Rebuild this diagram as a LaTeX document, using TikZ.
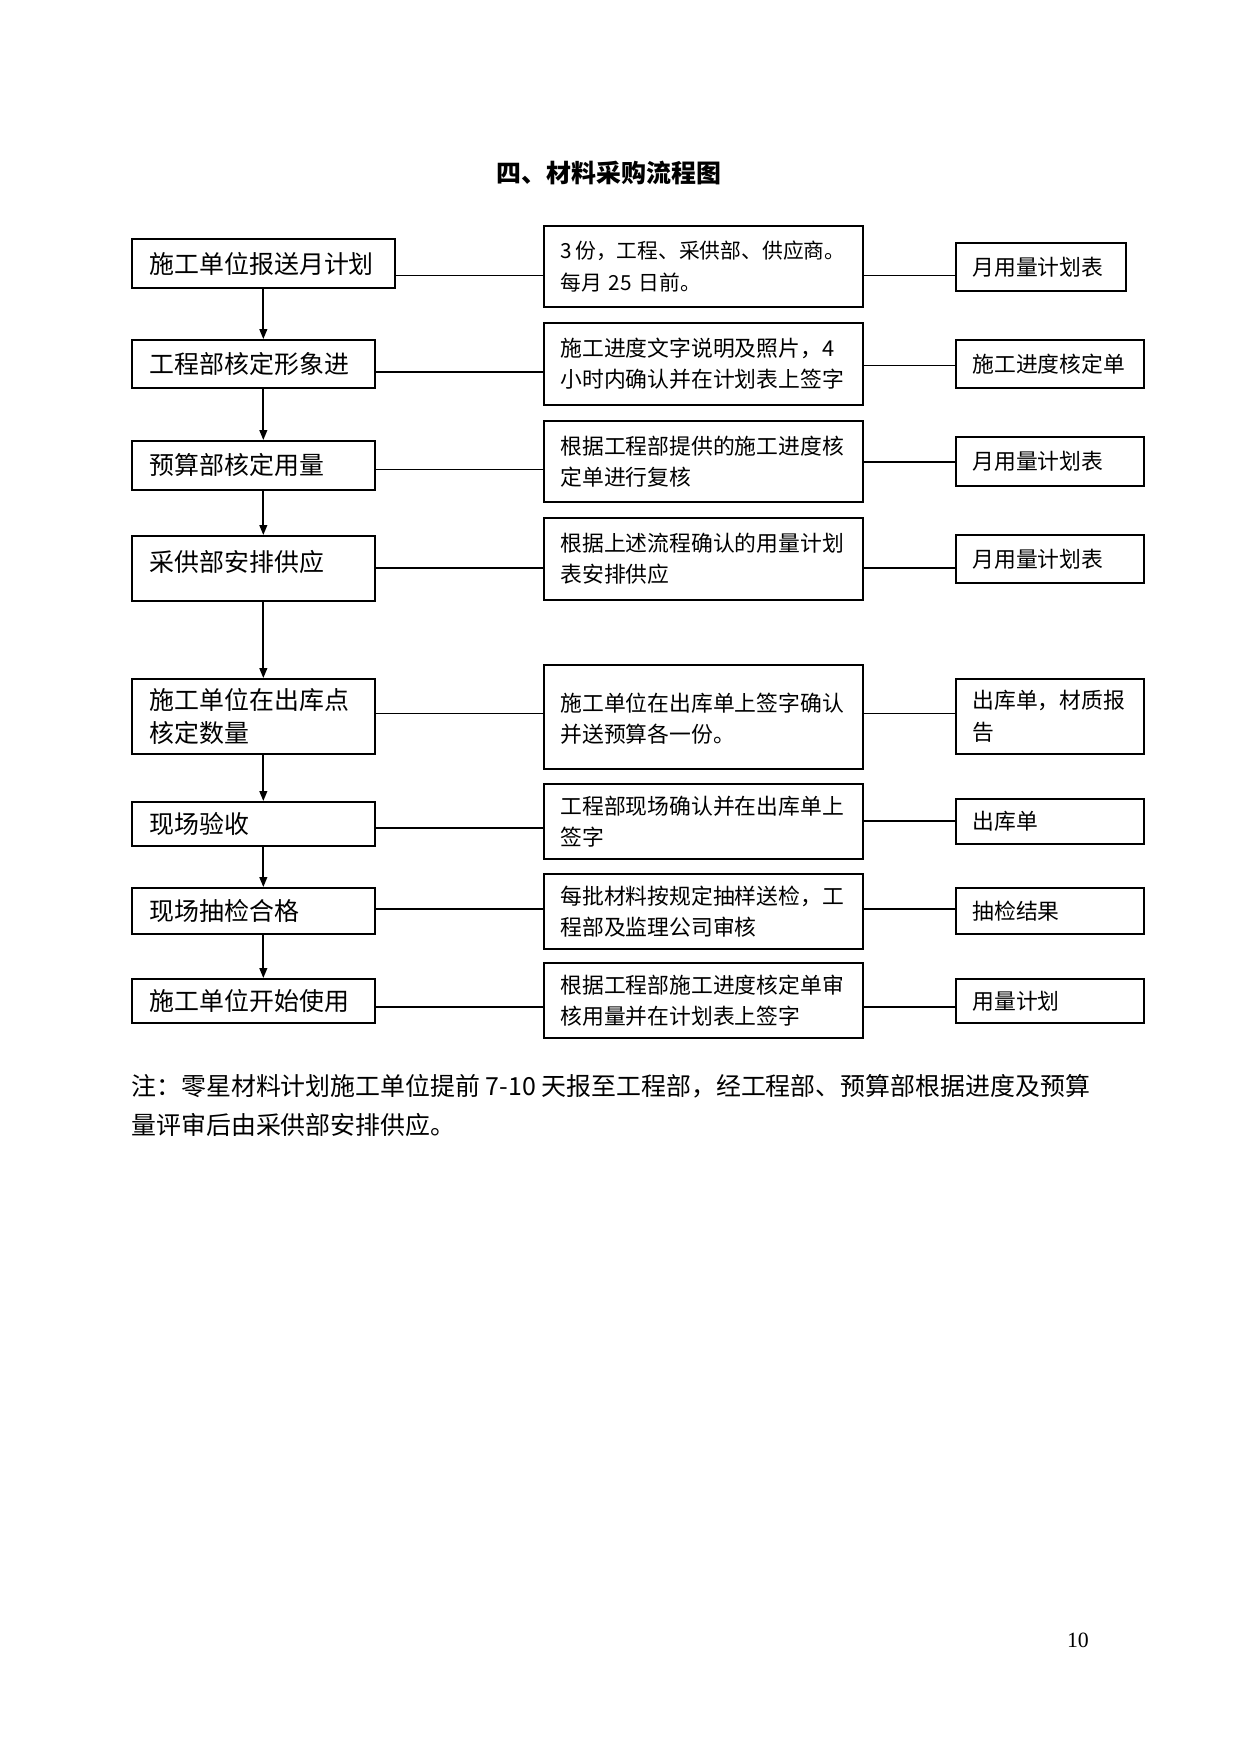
\documentclass[tikz,border=0pt]{standalone}
\usepackage{fontspec}
\setmainfont{Liberation Serif}
\newfontfamily\cjk{Noto Sans CJK SC}
\usetikzlibrary{arrows.meta}

\begin{document}
\begin{tikzpicture}[
  every node/.style={inner sep=0pt},
  box/.style={rectangle, draw=black, line width=0.8pt, inner ysep=2pt, align=left, anchor=west},
  lbox/.style={box, inner xsep=0.3cm,  text width=3.51cm,  minimum height=#1, font=\cjk\fontsize{12}{15.5}\selectfont},
  mbox/.style={box, inner xsep=0.28cm, text width=4.838cm, minimum height=#1, font=\cjk\fontsize{10.5}{15}\selectfont},
  rbox/.style={box, inner xsep=0.28cm, text width=2.621cm, minimum height=#1, font=\cjk\fontsize{10.5}{15.4}\selectfont},
  arr/.style  ={-{Triangle[length=4.8pt,width=3.6pt]}, line width=1pt},
  link/.style ={line width=0.5pt},
  linkb/.style={line width=1pt},
]

% ── Page (A4, white) ──
\path[fill=white, use as bounding box] (0,0) rectangle (21,-29.682);

% ── Column x-coordinates ──
\def\xLeft{2.217}
\def\xMid{9.189}
\def\xRight{16.161}

% ── Title ──
\node[font=\cjk\bfseries\fontsize{12}{14}\selectfont] (title) at (10.306,-2.928) {四、材料采购流程图};

% ── Left column: process steps ──
\node[lbox=0.829cm, text width=3.85cm]  (l1) at (\xLeft,-4.459)  {施工单位报送月计划};
\node[lbox=0.812cm]                     (l2) at (\xLeft,-6.160)  {工程部核定形象进};
\node[lbox=0.829cm]                     (l3) at (\xLeft,-7.877)  {预算部核定用量};
\node[lbox=1.10cm, text depth=0.25cm]   (l4) at (\xLeft,-9.620)  {采供部安排供应};
\node[lbox=1.269cm]                     (l5) at (\xLeft,-12.125) {施工单位在出库点\\核定数量};
\node[lbox=0.745cm]                     (l6) at (\xLeft,-13.944) {现场验收};
\node[lbox=0.778cm]                     (l7) at (\xLeft,-15.416) {现场抽检合格};
\node[lbox=0.745cm]                     (l8) at (\xLeft,-16.939) {施工单位开始使用};

% ── Middle column: requirements ──
\node[mbox=1.371cm, font=\cjk\fontsize{10}{15.6}\selectfont]
                                       (m1) at (\xMid,-4.510)  {3\,份，工程、采供部、供应商。\\每月 25 日前。};
\node[mbox=1.388cm]                    (m2) at (\xMid,-6.160)  {施工进度文字说明及照片，4\\小时内确认并在计划表上签字};
\node[mbox=1.371cm]                    (m3) at (\xMid,-7.810)  {根据工程部提供的施工进度核\\定单进行复核};
\node[mbox=1.388cm]                    (m4) at (\xMid,-9.459)  {根据上述流程确认的用量计划\\表安排供应};
\node[mbox=1.760cm, text depth=0.5cm]  (m5) at (\xMid,-12.133) {施工单位在出库单上签字确认\\并送预算各一份。};
\node[mbox=1.269cm]                    (m6) at (\xMid,-13.901) {工程部现场确认并在出库单上\\签字};
\node[mbox=1.269cm]                    (m7) at (\xMid,-15.425) {每批材料按规定抽样送检，工\\程部及监理公司审核};
\node[mbox=1.269cm]                    (m8) at (\xMid,-16.931) {根据工程部施工进度核定单审\\核用量并在计划表上签字};

% ── Right column: documents ──
\node[rbox=0.812cm, text width=2.317cm] (r1) at (\xRight,-4.518)  {月用量计划表};
\node[rbox=0.812cm]                     (r2) at (\xRight,-6.160)  {施工进度核定单};
\node[rbox=0.829cm]                     (r3) at (\xRight,-7.810)  {月用量计划表};
\node[rbox=0.812cm]                     (r4) at (\xRight,-9.459)  {月用量计划表};
\node[rbox=1.269cm]                     (r5) at (\xRight,-12.125) {出库单，材质报\\告};
\node[rbox=0.761cm]                     (r6) at (\xRight,-13.901) {出库单};
\node[rbox=0.778cm]                     (r7) at (\xRight,-15.416) {抽检结果};
\node[rbox=0.745cm]                     (r8) at (\xRight,-16.939) {用量计划};

% ── Connector heights per row ──
\coordinate (k1)  at (0,-4.654);
\coordinate (k2a) at (0,-6.295);  \coordinate (k2b) at (0,-6.177);
\coordinate (k3a) at (0,-7.953);  \coordinate (k3b) at (0,-7.818);
\coordinate (k4)  at (0,-9.612);
\coordinate (k5)  at (0,-12.082);
\coordinate (k6a) at (0,-14.011); \coordinate (k6b) at (0,-13.893);
\coordinate (k7)  at (0,-15.382);
\coordinate (k8)  at (0,-17.040);

% ── Row links: step -- requirement -- document ──
\draw[link]  (l1.east |- k1)  -- (m1.west |- k1);
\draw[link]  (m1.east |- k1)  -- (r1.west |- k1);
\draw[linkb] (l2.east |- k2a) -- (m2.west |- k2a);
\draw[link]  (m2.east |- k2b) -- (r2.west |- k2b);
\draw[link]  (l3.east |- k3a) -- (m3.west |- k3a);
\draw[linkb] (m3.east |- k3b) -- (r3.west |- k3b);
\draw[linkb] (l4.east |- k4)  -- (m4.west |- k4);
\draw[linkb] (m4.east |- k4)  -- (r4.west |- k4);
\draw[link]  (l5.east |- k5)  -- (m5.west |- k5);
\draw[link]  (m5.east |- k5)  -- (r5.west |- k5);
\draw[linkb] (l6.east |- k6a) -- (m6.west |- k6a);
\draw[link]  (m6.east |- k6b) -- (r6.west |- k6b);
\draw[link]  (l7.east |- k7)  -- (m7.west |- k7);
\draw[link]  (m7.east |- k7)  -- (r7.west |- k7);
\draw[linkb] (l8.east |- k8)  -- (m8.west |- k8);
\draw[linkb] (m8.east |- k8)  -- (r8.west |- k8);

% ── Flow arrows down the left column ──
\foreach \a/\b in {l1/l2, l2/l3, l3/l4, l4/l5, l5/l6, l6/l7, l7/l8} {
  \draw[arr] (\a.south -| l1.south) -- (\b.north -| l1.south);
}

% ── Note and page number ──
\node[anchor=north west, align=left, font=\cjk\fontsize{12}{18.7}\selectfont] (note) at (\xLeft,-18.17)
  {注：零星材料计划施工单位提前 7-10 天报至工程部，经工程部、预算部根据进度及预算\\量评审后由采供部安排供应。};
\node[font=\fontsize{10.5}{12}\selectfont] (pageno) at (18.242,-27.752) {10};

\end{tikzpicture}
\end{document}
